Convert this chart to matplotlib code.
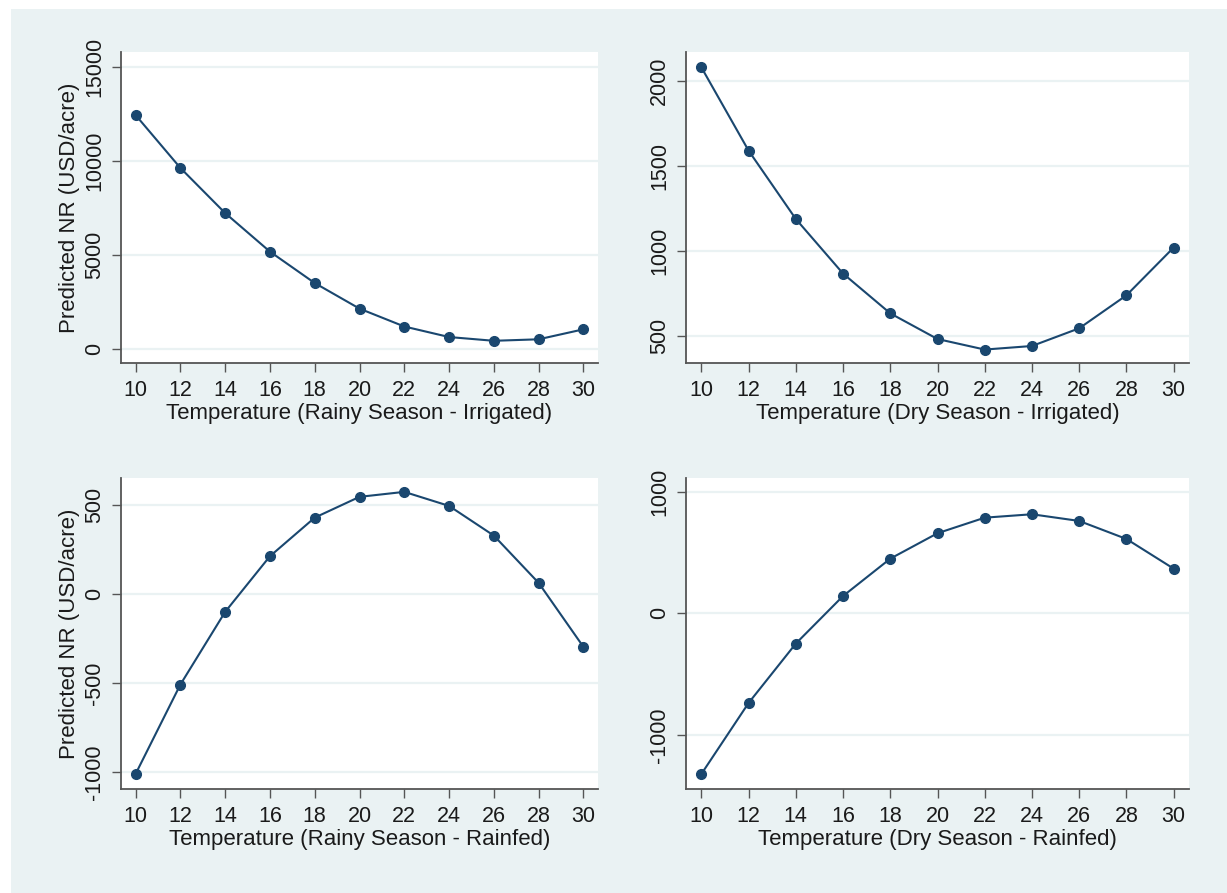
import matplotlib
matplotlib.use("Agg")
import matplotlib.pyplot as plt
from matplotlib.patches import Rectangle

plt.rcParams['font.family'] = ['Liberation Sans', 'DejaVu Sans']
plt.rcParams['axes.unicode_minus'] = False

temperature = [10, 12, 14, 16, 18, 20, 22, 24, 26, 28, 30]

rainy_irrigated = [12440, 9630, 7230, 5180, 3510, 2150, 1200, 640, 440, 520, 1050]
dry_irrigated = [2080, 1590, 1188, 867, 633, 482, 420, 441, 545, 739, 1020]
rainy_rainfed = [-1013, -510, -101, 212, 429, 546, 574, 495, 328, 62, -298]
dry_rainfed = [-1321, -737, -249, 142, 449, 658, 786, 814, 759, 611, 367]

xlabels = ["Temperature (Rainy Season - Irrigated)",
           "Temperature (Dry Season - Irrigated)",
           "Temperature (Rainy Season - Rainfed)",
           "Temperature (Dry Season - Rainfed)"]
ylabel = "Predicted NR (USD/acre)"

yticks = [[0, 5000, 10000, 15000],
          [500, 1000, 1500, 2000],
          [-1000, -500, 0, 500],
          [-1000, 0, 1000]]
ylims = [(-740, 15790), (341, 2170), (-1097, 652), (-1444, 1112)]
series = [rainy_irrigated, dry_irrigated, rainy_rainfed, dry_rainfed]

W, H = 1227, 893
fig = plt.figure(figsize=(W / 100, H / 100), dpi=100, facecolor='white')
bg = '#eaf2f3'
fig.patches.append(Rectangle((11 / W, 0), 1 - 11 / W, 1 - 9 / H,
                             transform=fig.transFigure, facecolor=bg,
                             edgecolor='none', zorder=-10))

line_color = '#1a476f'
axis_color = '#555555'
text_color = '#1a1a1a'

# pixel boxes: (left, top, right, bottom)
boxes = [(121, 52, 598, 363), (686, 52, 1189, 363),
         (121, 478, 598, 789), (686, 478, 1189, 789)]

for i, (l, t, r, b) in enumerate(boxes):
    ax = fig.add_axes([l / W, 1 - b / H, (r - l) / W, (b - t) / H])
    ax.set_facecolor('white')
    ax.plot(temperature, series[i], color=line_color, lw=1.5,
            marker='o', markersize=7, markerfacecolor=line_color,
            markeredgecolor=line_color, zorder=3)
    ax.set_xlim(9.35, 30.65)
    ax.set_ylim(*ylims[i])
    ax.set_xticks(temperature)
    ax.set_yticks(yticks[i])
    ax.set_yticklabels([str(v) for v in yticks[i]], rotation=90, va='center')
    ax.grid(axis='y', color=bg, lw=1.6, zorder=0)
    ax.set_axisbelow(True)
    for s in ['top', 'right']:
        ax.spines[s].set_visible(False)
    for s in ['left', 'bottom']:
        ax.spines[s].set_color(axis_color)
        ax.spines[s].set_linewidth(1.3)
    ax.tick_params(axis='both', colors=axis_color, labelcolor=text_color,
                   labelsize=15.5, width=1.0, length=6.5)
    ax.tick_params(axis='y', pad=5)
    ax.tick_params(axis='x', pad=6)
    ax.set_xlabel(xlabels[i], fontsize=16, color=text_color, labelpad=1)
    if i % 2 == 0:
        ax.set_ylabel(ylabel, fontsize=16, color=text_color, labelpad=3)

fig.savefig('out.png', dpi=100, facecolor='white')
